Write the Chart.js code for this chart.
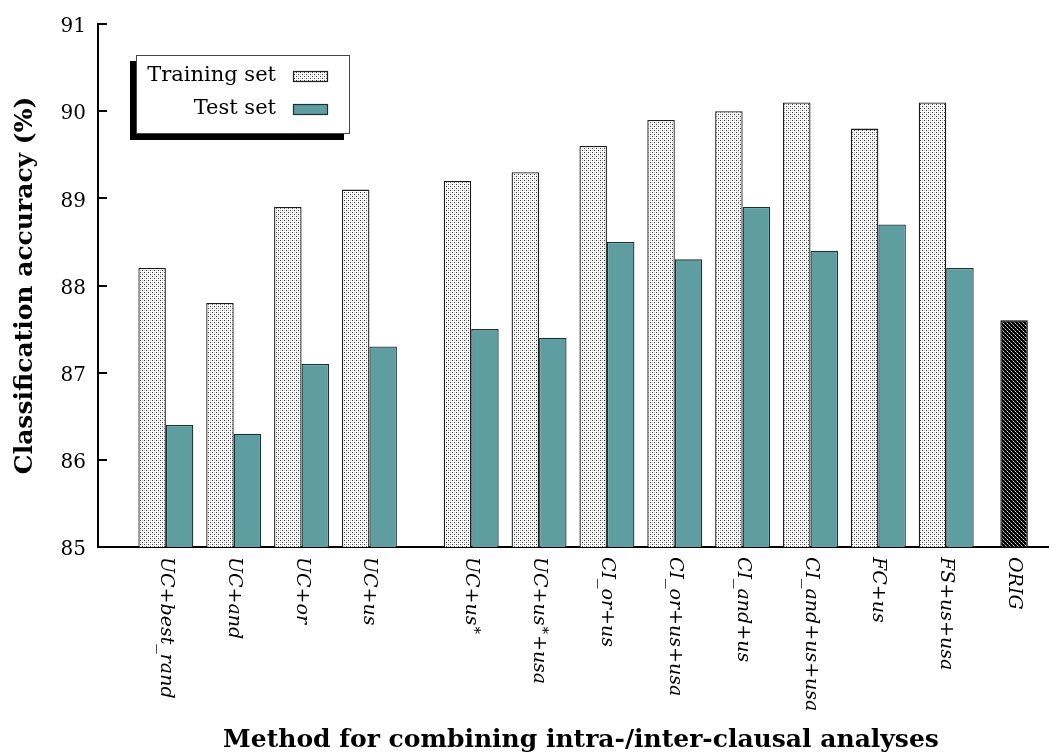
<!DOCTYPE html>
<html>
<head>
<meta charset="utf-8">
<script src="https://cdn.jsdelivr.net/npm/chart.js@4/dist/chart.umd.min.js"></script>
<style>
  html, body { margin: 0; padding: 0; background: #fff; }
  #wrap { width: 1050px; height: 756px; }
</style>
</head>
<body>
<div id="wrap"><canvas id="c" width="1050" height="756"></canvas></div>
<script>
// ---- data ----
const methods = ['UC+best_rand', 'UC+and', 'UC+or', 'UC+us', 'UC+us*', 'UC+us*+usa',
                 'CI_or+us', 'CI_or+us+usa', 'CI_and+us', 'CI_and+us+usa', 'FC+us', 'FS+us+usa'];
const trainingAcc = [88.2, 87.8, 88.9, 89.1, 89.2, 89.3, 89.6, 89.9, 90.0, 90.1, 89.8, 90.1];
const testAcc     = [86.4, 86.3, 87.1, 87.3, 87.5, 87.4, 88.5, 88.3, 88.9, 88.4, 88.7, 88.2];
const baselineLabel = 'ORIG';
const baselineAcc = 87.6;
const seriesNames = ['Training set', 'Test set'];
const yTicks = [85, 86, 87, 88, 89, 90, 91];
const yTitle = 'Classification accuracy (%)';
const xTitle = 'Method for combining intra-/inter-clausal analyses';

// Slot index of each group on the x scale; a half-slot gap separates the
// first four UC variants from the rest.
const firstGroupSize = 4;
const slotOf = i => i + (i >= firstGroupSize ? 0.5 : 0);
const methodSlots = methods.map((_, i) => slotOf(i));
const baselineSlot = slotOf(methods.length - 1) + 1;
const allSlots = methodSlots.concat([baselineSlot]);
const allLabels = methods.concat([baselineLabel]);

const SERIF = '"DejaVu Serif", "Liberation Serif", serif';
const TEAL = '#5f9ea0';

// ---- fill patterns ----
function dotPattern() {
  const c = document.createElement('canvas');
  c.width = 4; c.height = 4;
  const g = c.getContext('2d');
  g.fillStyle = '#fff'; g.fillRect(0, 0, 4, 4);
  g.fillStyle = '#3a3a3a'; g.fillRect(0, 0, 1, 1); g.fillRect(2, 2, 1, 1);
  g.fillStyle = '#bdbdbd'; g.fillRect(2, 0, 1, 1); g.fillRect(0, 2, 1, 1);
  return g.createPattern(c, 'repeat');
}
function hatchPattern() {
  const c = document.createElement('canvas');
  c.width = 4; c.height = 4;
  const g = c.getContext('2d');
  g.fillStyle = '#000'; g.fillRect(0, 0, 4, 4);
  for (let i = 0; i < 4; i++) {
    g.fillStyle = i % 2 ? '#d8d8d8' : '#7a7a7a';
    g.fillRect(i, i, 1, 1);
  }
  return g.createPattern(c, 'repeat');
}
const dots = dotPattern();
const hatch = hatchPattern();

// ---- decorations: inward y ticks, rotated x labels, titles, key box ----
function drawMethodLabel(ctx, text, x, y) {
  ctx.save();
  ctx.translate(x, y);
  ctx.rotate(Math.PI / 2);
  ctx.textBaseline = 'middle';
  ctx.textAlign = 'left';
  ctx.fillStyle = '#000';
  let cx = 0;
  const parts = text.split(/(\+|\*)/).filter(p => p.length);
  for (const p of parts) {
    if (p === '+') {
      ctx.font = '19px ' + SERIF;
      ctx.fillText(p, cx, 0);
      cx += ctx.measureText(p).width;
    } else if (p === '*') {
      ctx.font = '15px ' + SERIF;
      ctx.fillText(p, cx + 1, -3);
      cx += ctx.measureText(p).width + 2;
    } else {
      ctx.font = 'italic 19px ' + SERIF;
      ctx.fillText(p, cx, 0);
      cx += ctx.measureText(p).width;
    }
  }
  ctx.restore();
}

const decor = {
  id: 'decor',
  afterDraw(chart) {
    const { ctx, chartArea: a, scales: { x, y } } = chart;
    ctx.save();
    // inward tick stubs on the value axis
    ctx.strokeStyle = '#000';
    ctx.lineWidth = 2;
    for (const v of yTicks) {
      const py = Math.round(y.getPixelForValue(v));
      ctx.beginPath();
      ctx.moveTo(a.left, py);
      ctx.lineTo(a.left + 9, py);
      ctx.stroke();
    }
    // category labels, rotated clockwise
    allLabels.forEach((t, i) => drawMethodLabel(ctx, t, x.getPixelForValue(allSlots[i]), a.bottom + 10));

    // axis titles
    ctx.fillStyle = '#000';
    ctx.font = 'bold 25px ' + SERIF;
    ctx.textAlign = 'center';
    ctx.textBaseline = 'middle';
    ctx.fillText(xTitle, 581, 740);
    ctx.save();
    ctx.translate(25, (a.top + a.bottom) / 2);
    ctx.rotate(-Math.PI / 2);
    ctx.fillText(yTitle, 0, 0);
    ctx.restore();

    // key box with drop shadow
    const bx = 136, by = 55, bw = 214, bh = 79;
    ctx.fillStyle = '#000';
    ctx.fillRect(bx - 6, by + 6, bw, bh);
    ctx.fillStyle = '#fff';
    ctx.fillRect(bx, by, bw, bh);
    ctx.strokeStyle = '#444';
    ctx.lineWidth = 1;
    ctx.strokeRect(bx + 0.5, by + 0.5, bw - 1, bh - 1);

    ctx.font = '21px ' + SERIF;
    ctx.textAlign = 'right';
    const rows = [
      { y: 76, fill: dots, stroke: '#222' },
      { y: 109, fill: TEAL, stroke: '#1e3232' }
    ];
    rows.forEach((r, i) => {
      ctx.fillStyle = '#000';
      ctx.fillText(seriesNames[i], 276, r.y);
      ctx.fillStyle = r.fill;
      ctx.fillRect(293, r.y - 5, 35, 11);
      ctx.strokeStyle = r.stroke;
      ctx.lineWidth = 1.2;
      ctx.strokeRect(293.5, r.y - 4.5, 34, 10);
    });
    ctx.restore();
  }
};

new Chart(document.getElementById('c'), {
  type: 'bar',
  data: {
    datasets: [
      {
        label: seriesNames[0],
        data: methodSlots.map((s, i) => ({ x: s, y: trainingAcc[i] })),
        backgroundColor: dots,
        borderColor: '#1a1a1a',
        borderWidth: 1.3,
        categoryPercentage: 0.81,
        barPercentage: 1.0
      },
      {
        label: seriesNames[1],
        data: methodSlots.map((s, i) => ({ x: s, y: testAcc[i] })),
        backgroundColor: TEAL,
        borderColor: '#1e3232',
        borderWidth: 1.3,
        categoryPercentage: 0.81,
        barPercentage: 1.0
      },
      {
        label: baselineLabel,
        data: [{ x: baselineSlot, y: baselineAcc }],
        backgroundColor: hatch,
        borderColor: '#000',
        borderWidth: 1.3,
        grouped: false,
        categoryPercentage: 0.81,
        barPercentage: 0.5
      }
    ]
  },
  options: {
    responsive: false,
    animation: false,
    devicePixelRatio: 1,
    layout: { padding: { top: 22, right: 2, left: 0, bottom: 0 } },
    plugins: { legend: { display: false }, tooltip: { enabled: false } },
    scales: {
      x: {
        type: 'linear',
        min: methodSlots[0] - 1,
        max: baselineSlot + 0.5,
        offset: false,
        grid: { display: false },
        border: { display: true, color: '#000', width: 2 },
        ticks: { display: false },
        afterBuildTicks: s => { s.ticks = allSlots.map(v => ({ value: v })); },
        afterFit: s => { s.height = 209; }
      },
      y: {
        min: yTicks[0],
        max: yTicks[yTicks.length - 1],
        grid: { display: false, drawTicks: false },
        border: { display: true, color: '#000', width: 2 },
        ticks: {
          stepSize: 1,
          padding: 12,
          labelOffset: 3,
          color: '#000',
          font: { family: SERIF, size: 20 }
        },
        afterBuildTicks: s => { s.ticks = yTicks.map(v => ({ value: v })); },
        afterFit: s => { s.width = 98; }
      }
    }
  },
  plugins: [decor]
});
</script>
</body>
</html>
